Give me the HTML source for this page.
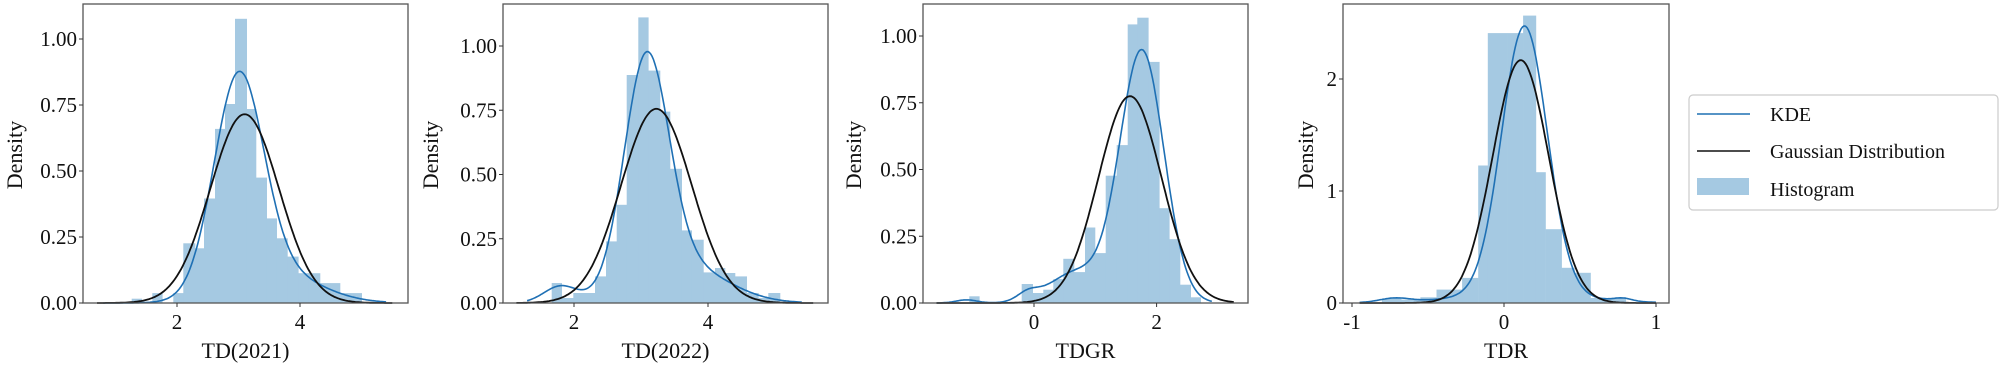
<!DOCTYPE html>
<html><head><meta charset="utf-8">
<style>
html,body{margin:0;padding:0;background:#fff;}
svg{display:block;}
text{font-family:"Liberation Serif","DejaVu Serif",serif;fill:#111;}
</style></head>
<body>
<svg id="s" width="2004" height="366" xmlns="http://www.w3.org/2000/svg">
<rect x="0" y="0" width="2004" height="366" fill="#fff"/>
<g id="g"></g>
<rect x="1689" y="95" width="309" height="115" rx="4" fill="#fff" stroke="#ccc" stroke-width="1.2"/>
<line x1="1697" y1="114" x2="1750" y2="114" stroke="#1f70b4" stroke-width="1.6"/>
<line x1="1697" y1="151" x2="1750" y2="151" stroke="#111" stroke-width="1.6"/>
<rect x="1697" y="178" width="52" height="17" fill="#a5c9e2"/>
<text x="1770" y="121" font-size="20">KDE</text>
<text x="1770" y="158" font-size="20">Gaussian Distribution</text>
<text x="1770" y="196" font-size="20">Histogram</text>
</svg>
<script>
(function(){
var NS="http://www.w3.org/2000/svg",g=document.getElementById("g");
function el(t,a,txt){var e=document.createElementNS(NS,t);for(var k in a)e.setAttribute(k,a[k]);if(txt!=null)e.textContent=txt;g.appendChild(e);return e;}
function N(x,m,s){return Math.exp(-0.5*((x-m)/s)*((x-m)/s))/(s*2.5066);}
var panels=[
 {L:83,R:408,T:4,B:303,x0v:2,x0p:177,sx:61.5,sy:264,
  yt:[[0,"0.00"],[0.25,"0.25"],[0.5,"0.50"],[0.75,"0.75"],[1,"1.00"]],xt:[[2,"2"],[4,"4"]],
  xl:"TD(2021)",dl:14,
  gm:3.1,gs:0.558,gr:[0.7,5.5],
  kde:[[0.8,3.0,0.4],[0.2,3.6,0.7]],kr:[0.8,5.4],
  bars:{off:0,sc:3,base:910,unit:796,list:[[395,425,897],[457,487,880],[520,550,880],[550,585,730],[585,612,745],[612,645,595],[645,675,385],[675,705,310],[705,740,53],[740,768,325],[768,800,532],[800,830,655],[830,862,715],[862,895,770],[895,925,820],[925,960,820],[960,990,850],[990,1020,850],[1020,1050,880],[1050,1085,880]]}},
 {L:503,R:828,T:4,B:303,x0v:2,x0p:574,sx:67,sy:257,
  yt:[[0,"0.00"],[0.25,"0.25"],[0.5,"0.50"],[0.75,"0.75"],[1,"1.00"]],xt:[[2,"2"],[4,"4"]],
  xl:"TD(2022)",dl:430,
  gm:3.23,gs:0.528,gr:[1.14,5.57],
  kde:[[0.72,3.08,0.33],[0.24,3.6,0.65],[0.04,1.8,0.25]],kr:[1.3,5.4],
  bars:{off:480,sc:3,base:910,unit:772,list:[[215,245,850],[245,280,895],[280,312,880],[312,345,880],[345,378,830],[378,410,725],[410,440,615],[440,475,225],[475,505,52],[505,540,212],[540,570,335],[570,605,507],[605,635,692],[635,670,720],[670,705,818],[705,735,805],[735,765,820],[765,800,830],[800,835,880],[835,865,895],[865,900,880]]}},
 {L:923,R:1248,T:4,B:303,x0v:0,x0p:1034,sx:61.3,sy:267,
  yt:[[0,"0.00"],[0.25,"0.25"],[0.5,"0.50"],[0.75,"0.75"],[1,"1.00"]],xt:[[0,"0"],[2,"2"]],
  xl:"TDGR",dl:853,
  gm:1.566,gs:0.515,gr:[-1.59,3.26],
  kde:[[0.85,1.76,0.36],[0.13,0.7,0.45],[0.012,-0.1,0.17],[0.005,-1.1,0.17]],kr:[-1.59,2.9],
  bars:{off:880,sc:3,base:910,unit:803,list:[[268,298,890],[425,458,853],[458,490,880],[490,520,870],[520,550,838],[550,582,777],[582,615,817],[615,645,683],[645,677,760],[677,710,527],[710,743,435],[743,772,72],[772,805,52],[805,838,185],[838,868,625],[868,900,718],[900,932,855],[932,962,893]]}},
 {L:1343,R:1669,T:4,B:303,x0v:0,x0p:1504,sx:152,sy:112,
  yt:[[0,"0"],[1,"1"],[2,"2"]],xt:[[-1,"-1"],[0,"0"],[1,"1"]],
  xl:"TDR",dl:1305,
  gm:0.11,gs:0.184,gr:[-0.95,1.0],
  kde:[[0.9,0.135,0.15],[0.08,0.1,0.4],[0.009,-0.72,0.1],[0.004,0.78,0.06]],kr:[-0.95,1.0],
  bars:{off:1000,sc:1.558,base:910,unit:334,list:[[595,625,897],[625,655,900],[655,680,893],[680,720,870],[720,745,835],[745,760,500],[760,790,105],[790,815,105],[815,835,53],[835,850,520],[850,875,690],[875,895,805],[895,920,820],[920,960,895],[960,975,893]]}}
];
panels.forEach(function(p){
 var X=function(v){return p.x0p+(v-p.x0v)*p.sx;},Y=function(d){return p.B-d*p.sy;};
 var b=p.bars;
 b.list.forEach(function(r){var x1=b.off+r[0]/b.sc,x2=b.off+r[1]/b.sc,d=(b.base-r[2])/b.unit,h=d*p.sy;
   el("rect",{x:x1.toFixed(1),y:(p.B-h).toFixed(1),width:(x2-x1+0.3).toFixed(1),height:h.toFixed(1),fill:"#a5c9e2"});});
 function path(f,r,c,w){var s="",n=200;for(var i=0;i<=n;i++){var v=r[0]+(r[1]-r[0])*i/n;s+=(i?"L":"M")+X(v).toFixed(1)+","+Y(f(v)).toFixed(1);}
   el("path",{d:s,fill:"none",stroke:c,"stroke-width":w});}
 path(function(v){var t=0;p.kde.forEach(function(k){t+=k[0]*N(v,k[1],k[2]);});return t;},p.kr,"#1f70b4",1.6);
 path(function(v){return N(v,p.gm,p.gs);},p.gr,"#111",1.8);
 el("rect",{x:p.L,y:p.T,width:p.R-p.L,height:p.B-p.T,fill:"none",stroke:"#555","stroke-width":1.3});
 p.yt.forEach(function(t){var y=Y(t[0]);el("line",{x1:p.L-4,y1:y,x2:p.L,y2:y,stroke:"#333","stroke-width":1});
   el("text",{x:p.L-6,y:y+7,"font-size":21,"text-anchor":"end"},t[1]);});
 p.xt.forEach(function(t){var x=X(t[0]);el("line",{x1:x,y1:p.B,x2:x,y2:p.B+4,stroke:"#333","stroke-width":1});
   el("text",{x:x,y:329,"font-size":21,"text-anchor":"middle"},t[1]);});
 el("text",{x:(p.L+p.R)/2,y:358,"font-size":22,"text-anchor":"middle"},p.xl);
 el("text",{x:0,y:0,"font-size":22,"text-anchor":"middle",transform:"translate("+(p.dl+8)+",155) rotate(-90)"},"Density");
});
})();
</script>
</body></html>
